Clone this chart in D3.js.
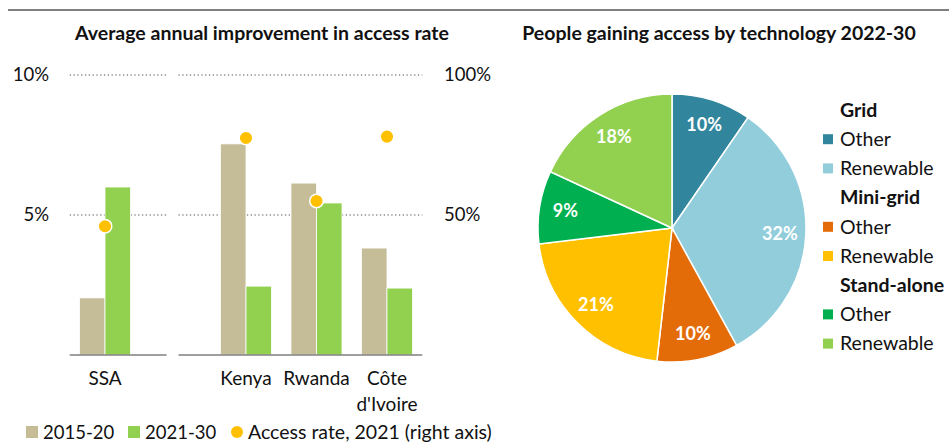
<!DOCTYPE html>
<html>
<head>
<meta charset="utf-8">
<script src="https://cdn.jsdelivr.net/npm/d3@7"></script>
<style>
  body { margin: 0; background: #fff; }
  svg { display: block; font-family: Lato, "Open Sans", sans-serif; }
</style>
</head>
<body>
<svg id="chart" width="949" height="443"></svg>
<script>
// DATA
var categories = ["SSA", "", "Kenya", "Rwanda", "Côte d'Ivoire"];
var improve1520 = [2.04, null, 7.54, 6.14, 3.82];
var improve2130 = [6.0, null, 2.46, 5.43, 2.39];
var accessRate2021 = [46, null, 77.5, 55, 78];
var leftTicks = [5, 10];
var rightTicks = [50, 100];

var techGroups = ["Grid", "Mini-grid", "Stand-alone"];
var techTypes = ["Other", "Renewable"];
var techShares = [9.6, 32.4, 9.8, 21.3, 8.8, 18.1];
var techColors = ["#31859C", "#92CDDC", "#E36C09", "#FFC000", "#00B050", "#92D050"];

var svg = d3.select("#chart");
var fs = 18.5;
var fsLeg = 19.5;
var fsTitle = 19.5;

// top rule
svg.append("line").attr("x1", 8).attr("x2", 949).attr("y1", 10).attr("y2", 10)
    .attr("stroke", "#808080").attr("stroke-width", 2);

/* SECTION: bar chart */

var x = d3.scaleBand().domain(categories).range([69.75, 422.25]);
var y = d3.scaleLinear().domain([0, 10]).range([355, 75]);
var y2 = d3.scaleLinear().domain([0, 100]).range([355, 75]);
var gapX = x("") + x.bandwidth() / 2;
var segments = [[x.range()[0], gapX - 9], [gapX + 3, x.range()[1]]];

svg.append("text").attr("x", 262).attr("y", 40).attr("text-anchor", "middle")
    .attr("font-weight", "bold").attr("font-size", fsTitle).attr("fill", "#111")
    .text("Average annual improvement in access rate");

var grid = svg.append("g");
leftTicks.forEach(function(t) {
  segments.forEach(function(s) {
    grid.append("line").attr("x1", s[0]).attr("x2", s[1])
        .attr("y1", y(t)).attr("y2", y(t))
        .attr("stroke", "#8c8c8c").attr("stroke-width", 1.3).attr("stroke-dasharray", "1.3,2.5");
  });
});

svg.append("g").selectAll("text").data(leftTicks).enter().append("text")
    .attr("x", 49).attr("y", function(d) { return y(d); }).attr("dy", "0.35em")
    .attr("text-anchor", "end").attr("font-size", fs).attr("fill", "#111")
    .text(function(d) { return d + "%"; });
svg.append("g").selectAll("text").data(rightTicks).enter().append("text")
    .attr("x", 444).attr("y", function(d) { return y2(d); }).attr("dy", "0.35em")
    .attr("font-size", fs).attr("fill", "#111")
    .text(function(d) { return d + "%"; });

var bw = x.bandwidth() * 0.362;
var bars = svg.append("g");
categories.forEach(function(c, i) {
  var cx = x(c) + x.bandwidth() / 2;
  if (improve1520[i] != null) {
    bars.append("rect").attr("x", cx - bw).attr("width", bw)
        .attr("y", y(improve1520[i])).attr("height", y(0) - y(improve1520[i]))
        .attr("fill", "#C4BD97").attr("stroke", "#fff").attr("stroke-width", 0.8);
    bars.append("rect").attr("x", cx).attr("width", bw)
        .attr("y", y(improve2130[i])).attr("height", y(0) - y(improve2130[i]))
        .attr("fill", "#92D050").attr("stroke", "#fff").attr("stroke-width", 0.8);
  }
});

segments.forEach(function(s) {
  svg.append("line").attr("x1", s[0]).attr("x2", s[1]).attr("y1", y(0)).attr("y2", y(0))
      .attr("stroke", "#7f7f7f").attr("stroke-width", 1.6);
});

var dots = svg.append("g");
categories.forEach(function(c, i) {
  if (accessRate2021[i] == null) return;
  dots.append("circle").attr("cx", x(c) + x.bandwidth() / 2).attr("cy", y2(accessRate2021[i]))
      .attr("r", 6.8).attr("fill", "#FFC000").attr("stroke", "#fff").attr("stroke-width", 1.5);
});

var catLabels = svg.append("g");
categories.forEach(function(c) {
  if (!c) return;
  var cx = x(c) + x.bandwidth() / 2;
  var lines = c == "Côte d'Ivoire" ? ["Côte", "d'Ivoire"] : [c];
  lines.forEach(function(l, j) {
    catLabels.append("text").attr("x", cx).attr("y", 385 + j * 26).attr("text-anchor", "middle")
        .attr("font-size", 19).attr("fill", "#111").text(l);
  });
});

// legend
var leg = svg.append("g");
leg.append("rect").attr("x", 26).attr("y", 426).attr("width", 12).attr("height", 12).attr("fill", "#C4BD97");
leg.append("text").attr("x", 43).attr("y", 439).attr("font-size", 18.5).attr("fill", "#111").text("2015-20");
leg.append("rect").attr("x", 128).attr("y", 426).attr("width", 12).attr("height", 12).attr("fill", "#92D050");
leg.append("text").attr("x", 145).attr("y", 439).attr("font-size", 18.5).attr("fill", "#111").text("2021-30");
leg.append("circle").attr("cx", 237).attr("cy", 432).attr("r", 6).attr("fill", "#FFC000");
leg.append("text").attr("x", 248).attr("y", 439).attr("font-size", fsLeg).attr("fill", "#111").text("Access rate, 2021 (right axis)");

/* SECTION: pie chart */

svg.append("text").attr("x", 719).attr("y", 40).attr("text-anchor", "middle")
    .attr("font-weight", "bold").attr("font-size", fsTitle).attr("fill", "#111")
    .text("People gaining access by technology 2022-30");

var radius = 134;
var pie = d3.pie().sort(null).value(function(d) { return d; });
var arc = d3.arc().innerRadius(0).outerRadius(radius);
var labelArc = d3.arc().innerRadius(108).outerRadius(108);
var total = d3.sum(techShares);

var pg = svg.append("g").attr("transform", "translate(672,228)");
var slices = pg.selectAll("g").data(pie(techShares)).enter().append("g");
slices.append("path").attr("d", arc)
    .attr("fill", function(d, i) { return techColors[i]; })
    .attr("stroke", "#fff").attr("stroke-width", 1.5);
slices.append("text")
    .attr("transform", function(d) { return "translate(" + labelArc.centroid(d) + ")"; })
    .attr("dy", "0.35em").attr("text-anchor", "middle")
    .attr("font-weight", "bold").attr("font-size", 18).attr("fill", "#fff")
    .text(function(d) { return Math.round(d.value / total * 100) + "%"; });

var pl = svg.append("g");
var row = 0;
techGroups.forEach(function(g, gi) {
  pl.append("text").attr("x", 840).attr("y", 110 + row * 29.2).attr("dy", "0.35em")
      .attr("font-weight", "bold").attr("font-size", fsLeg).attr("fill", "#111").text(g);
  row++;
  techTypes.forEach(function(t, ti) {
    var yy = 110 + row * 29.2;
    pl.append("rect").attr("x", 823).attr("y", yy - 5).attr("width", 10).attr("height", 10)
        .attr("fill", techColors[gi * 2 + ti]);
    pl.append("text").attr("x", 840).attr("y", yy).attr("dy", "0.35em")
        .attr("font-size", fsLeg).attr("fill", "#111").text(t);
    row++;
  });
});
</script>
</body>
</html>
